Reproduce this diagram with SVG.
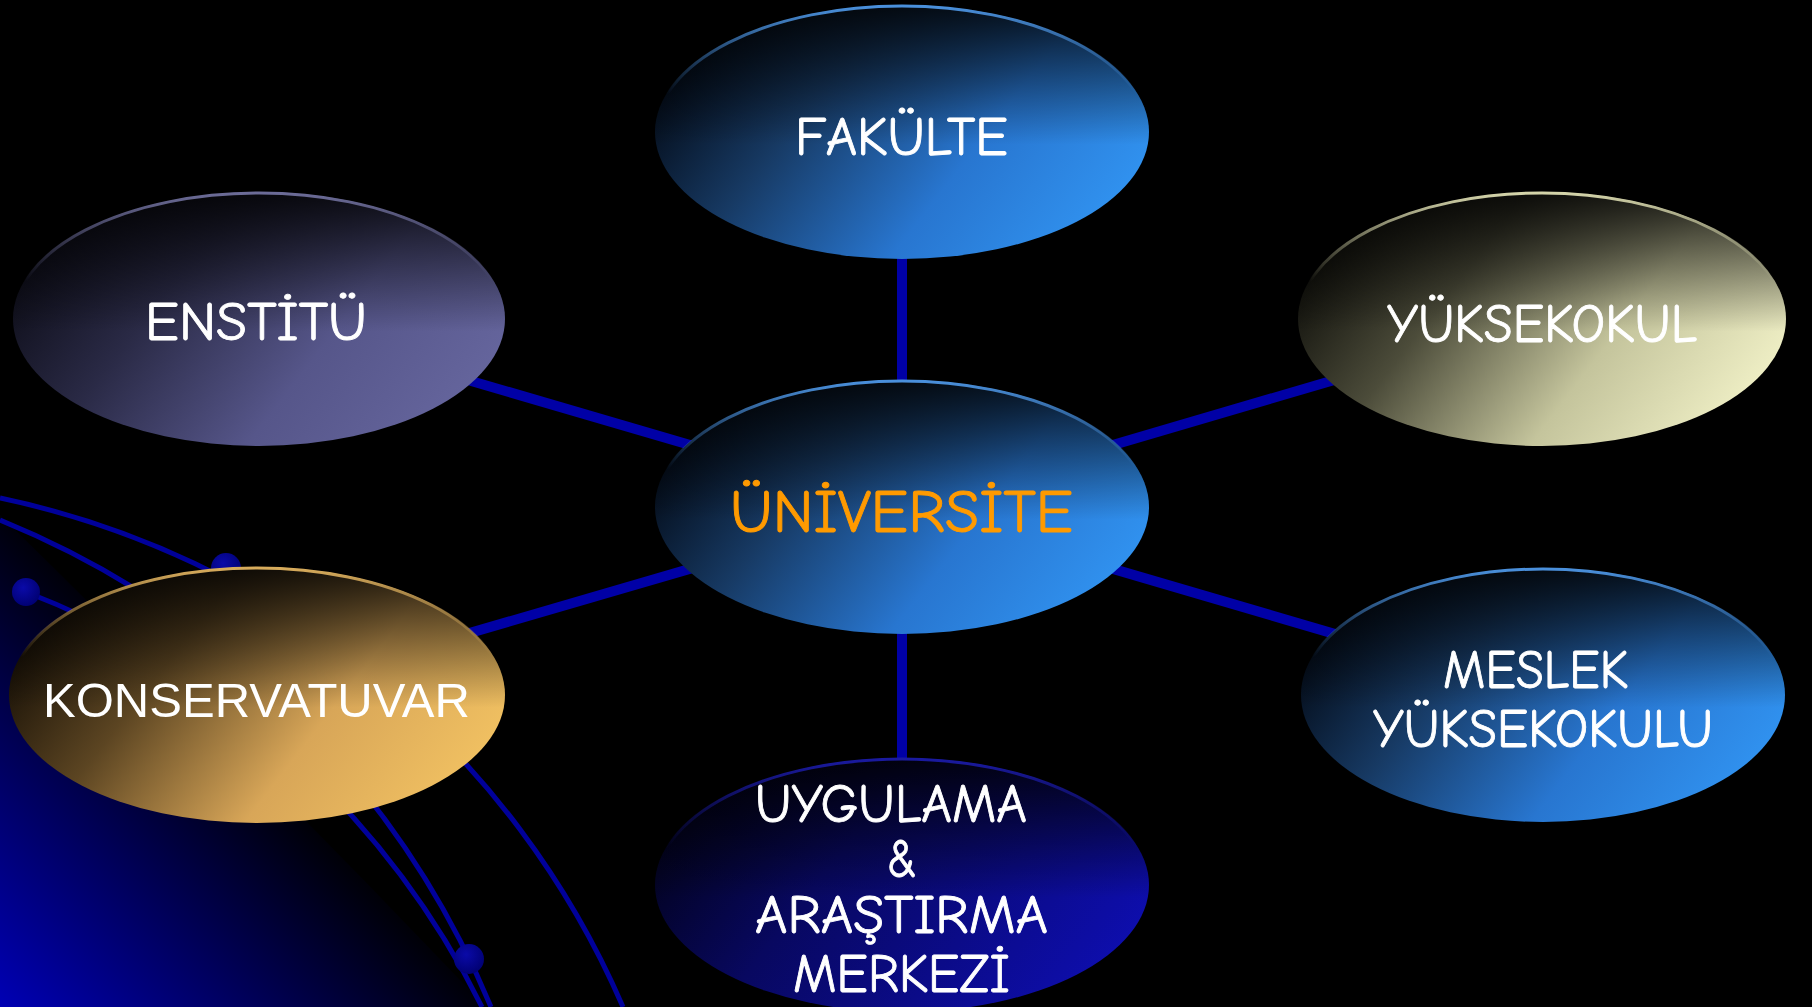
<svg xmlns="http://www.w3.org/2000/svg" width="1812" height="1007" viewBox="0 0 1812 1007">
<style>
.conn{stroke:#0000a6;stroke-width:10;fill:none}
.orbit{stroke:#00009a;stroke-width:5;fill:none}
.dot{fill:url(#gDot)}
.shade{fill:url(#gShade)}
.lbl{font-family:"Comic Neue","Open Sans","DejaVu Sans",sans-serif;font-size:55px;fill:#ffffff;stroke:#ffffff;stroke-width:0.9px;text-anchor:middle}
.arial{font-family:"Liberation Sans",Arial,sans-serif;font-size:48px;fill:#ffffff;text-anchor:middle}
.uni{fill:#ff9a00;stroke:#ff9a00;font-size:60px}
</style>
<defs>
<linearGradient id="gPlanet" gradientUnits="userSpaceOnUse" x1="250" y1="765" x2="0" y2="1007">
<stop offset="0" stop-color="#000008"/>
<stop offset="1" stop-color="#0000b4"/>
</linearGradient>
<radialGradient id="gDot" cx="0.4" cy="0.35" r="0.7">
<stop offset="0" stop-color="#0a0aa8"/>
<stop offset="1" stop-color="#000070"/>
</radialGradient>
<linearGradient id="gShade" x1="0" y1="0" x2="0" y2="1">
<stop offset="0" stop-color="#000" stop-opacity="0.85"/>
<stop offset="0.55" stop-color="#000" stop-opacity="0"/>
<stop offset="1" stop-color="#000" stop-opacity="0"/>
</linearGradient>
<linearGradient id="gBlue" x1="0" y1="0.3" x2="1" y2="0.7">
<stop offset="0" stop-color="#020812"/>
<stop offset="0.3" stop-color="#173a64"/>
<stop offset="0.65" stop-color="#2876d0"/>
<stop offset="1" stop-color="#3194f2"/>
</linearGradient>
<linearGradient id="rBlue" x1="0" y1="0" x2="0" y2="1">
<stop offset="0" stop-color="#4a90dc"/>
<stop offset="0.35" stop-color="#4a90dc" stop-opacity="0"/>
</linearGradient>
<linearGradient id="gTan" x1="0" y1="0.3" x2="1" y2="0.7">
<stop offset="0" stop-color="#0c0c08"/>
<stop offset="0.3" stop-color="#4c4c3a"/>
<stop offset="0.65" stop-color="#c4c49c"/>
<stop offset="1" stop-color="#f2f2c8"/>
</linearGradient>
<linearGradient id="rTan" x1="0" y1="0" x2="0" y2="1">
<stop offset="0" stop-color="#d4d4aa"/>
<stop offset="0.35" stop-color="#d4d4aa" stop-opacity="0"/>
</linearGradient>
<linearGradient id="gGold" x1="0" y1="0.3" x2="1" y2="0.7">
<stop offset="0" stop-color="#120c04"/>
<stop offset="0.3" stop-color="#5c4522"/>
<stop offset="0.65" stop-color="#d8a658"/>
<stop offset="1" stop-color="#f2c262"/>
</linearGradient>
<linearGradient id="rGold" x1="0" y1="0" x2="0" y2="1">
<stop offset="0" stop-color="#d8ac5c"/>
<stop offset="0.35" stop-color="#d8ac5c" stop-opacity="0"/>
</linearGradient>
<linearGradient id="gPurple" x1="0" y1="0.3" x2="1" y2="0.7">
<stop offset="0" stop-color="#0c0c16"/>
<stop offset="0.3" stop-color="#2a2a46"/>
<stop offset="0.65" stop-color="#56568a"/>
<stop offset="1" stop-color="#66669e"/>
</linearGradient>
<linearGradient id="rPurple" x1="0" y1="0" x2="0" y2="1">
<stop offset="0" stop-color="#6c6c98"/>
<stop offset="0.35" stop-color="#6c6c98" stop-opacity="0"/>
</linearGradient>
<linearGradient id="gNavy" x1="0" y1="0.3" x2="1" y2="0.7">
<stop offset="0" stop-color="#02021a"/>
<stop offset="0.35" stop-color="#080860"/>
<stop offset="1" stop-color="#0e0eb0"/>
</linearGradient>
<linearGradient id="rNavy" x1="0" y1="0" x2="0" y2="1">
<stop offset="0" stop-color="#1a1aa0"/>
<stop offset="0.35" stop-color="#1a1aa0" stop-opacity="0"/>
</linearGradient>
</defs>
<rect x="0" y="0" width="1812" height="1007" fill="#000"/>
<g id="background">
<path d="M0,515 Q250,760 486,1007 L0,1007 Z" fill="url(#gPlanet)"/>
<path class="orbit" d="M0,498 A874,874 0 0 1 623,1007"/>
<path class="orbit" d="M0,520 A900,900 0 0 1 491,1007"/>
<path class="orbit" d="M26,592 A851,851 0 0 1 482,1007"/>
<circle class="dot" cx="226" cy="568" r="15"/>
<circle class="dot" cx="26" cy="592" r="14"/>
<circle class="dot" cx="469" cy="959" r="15"/>
</g>
<g id="connectors">
<line class="conn" x1="902" y1="507" x2="902" y2="132"/>
<line class="conn" x1="902" y1="507" x2="902" y2="885"/>
<line class="conn" x1="902" y1="507" x2="259" y2="319"/>
<line class="conn" x1="902" y1="507" x2="1542" y2="319"/>
<line class="conn" x1="902" y1="507" x2="257" y2="695"/>
<line class="conn" x1="902" y1="507" x2="1543" y2="695"/>
</g>
<g id="node-fakulte">
<ellipse cx="902" cy="132" rx="247" ry="127" fill="url(#gBlue)"/>
<ellipse class="shade" cx="902" cy="132" rx="247" ry="127"/>
<ellipse cx="902" cy="132" rx="246" ry="126" fill="none" stroke="url(#rBlue)" stroke-width="3"/>
<text class="lbl" x="901.5" y="155" textLength="213" lengthAdjust="spacingAndGlyphs">FAKÜLTE</text>
</g>
<g id="node-universite">
<ellipse cx="902" cy="507" rx="247" ry="127" fill="url(#gBlue)"/>
<ellipse class="shade" cx="902" cy="507" rx="247" ry="127"/>
<ellipse cx="902" cy="507" rx="246" ry="126" fill="none" stroke="url(#rBlue)" stroke-width="3"/>
<text class="lbl uni" x="901.5" y="532" textLength="343" lengthAdjust="spacingAndGlyphs">ÜNİVERSİTE</text>
</g>
<g id="node-uygulama">
<ellipse cx="902" cy="885" rx="247" ry="127" fill="url(#gNavy)"/>
<ellipse class="shade" cx="902" cy="885" rx="247" ry="127"/>
<ellipse cx="902" cy="885" rx="246" ry="126" fill="none" stroke="url(#rNavy)" stroke-width="3"/>
<text class="lbl" x="891" y="822" textLength="272" lengthAdjust="spacingAndGlyphs">UYGULAMA</text>
<text class="lbl" x="902" y="877" textLength="30" lengthAdjust="spacingAndGlyphs">&amp;</text>
<text class="lbl" x="901.5" y="933" textLength="293" lengthAdjust="spacingAndGlyphs">ARAŞTIRMA</text>
<text class="lbl" x="901.5" y="992" textLength="217" lengthAdjust="spacingAndGlyphs">MERKEZİ</text>
</g>
<g id="node-enstitu">
<ellipse cx="259" cy="319" rx="246" ry="127" fill="url(#gPurple)"/>
<ellipse class="shade" cx="259" cy="319" rx="246" ry="127"/>
<ellipse cx="259" cy="319" rx="245" ry="126" fill="none" stroke="url(#rPurple)" stroke-width="3"/>
<text class="lbl" x="256" y="340" textLength="222" lengthAdjust="spacingAndGlyphs">ENSTİTÜ</text>
</g>
<g id="node-yuksekokul">
<ellipse cx="1542" cy="319" rx="244" ry="127" fill="url(#gTan)"/>
<ellipse class="shade" cx="1542" cy="319" rx="244" ry="127"/>
<ellipse cx="1542" cy="319" rx="243" ry="126" fill="none" stroke="url(#rTan)" stroke-width="3"/>
<text class="lbl" x="1542" y="342" textLength="310" lengthAdjust="spacingAndGlyphs">YÜKSEKOKUL</text>
</g>
<g id="node-konservatuvar">
<ellipse cx="257" cy="695" rx="248" ry="128" fill="url(#gGold)"/>
<ellipse class="shade" cx="257" cy="695" rx="248" ry="128"/>
<ellipse cx="257" cy="695" rx="247" ry="127" fill="none" stroke="url(#rGold)" stroke-width="3"/>
<text class="arial" x="256.5" y="717" textLength="427" lengthAdjust="spacingAndGlyphs">KONSERVATUVAR</text>
</g>
<g id="node-meslek">
<ellipse cx="1543" cy="695" rx="242" ry="127" fill="url(#gBlue)"/>
<ellipse class="shade" cx="1543" cy="695" rx="242" ry="127"/>
<ellipse cx="1543" cy="695" rx="241" ry="126" fill="none" stroke="url(#rBlue)" stroke-width="3"/>
<text class="lbl" x="1535.5" y="688" textLength="185" lengthAdjust="spacingAndGlyphs">MESLEK</text>
<text class="lbl" x="1543" y="747" textLength="340" lengthAdjust="spacingAndGlyphs">YÜKSEKOKULU</text>
</g>
</svg>
